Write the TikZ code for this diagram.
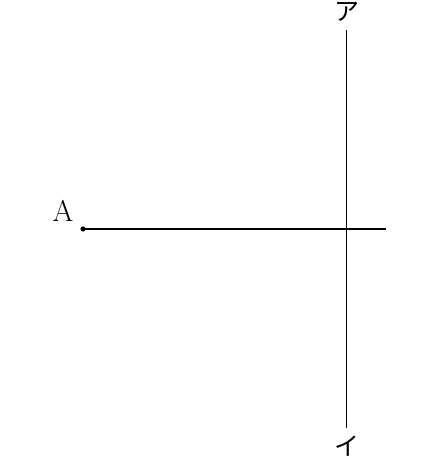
\documentclass[tikz,border=0pt]{standalone}
\usepackage{fontspec}
\newfontfamily\cjk{Noto Sans CJK JP}
\begin{document}
\begin{tikzpicture}[x=0.5pt,y=-0.5pt,
  lbl/.style={inner sep=0pt,font=\fontsize{15}{17}\selectfont},
  kana/.style={inner sep=0pt,font=\cjk\fontsize{12.5}{14}\selectfont},
  thickline/.style={line width=1.2pt},
  thinline/.style={line width=0.5pt}]
\useasboundingbox (0,0) rectangle (434,459);
\coordinate (A) at (83,229);
\coordinate (E) at (386,229);
\coordinate (T) at (346.5,30);
\coordinate (B) at (346.5,428);
\draw[thinline] (T) -- (B);
\draw[thickline] (A) -- (E);
\fill (A) circle (1.3pt);
\node[lbl] (la) at (63,210.5) {A};
\node[kana] (ka) at (347,12) {ア};
\node[kana] (ki) at (347,446) {イ};
\end{tikzpicture}
\end{document}
